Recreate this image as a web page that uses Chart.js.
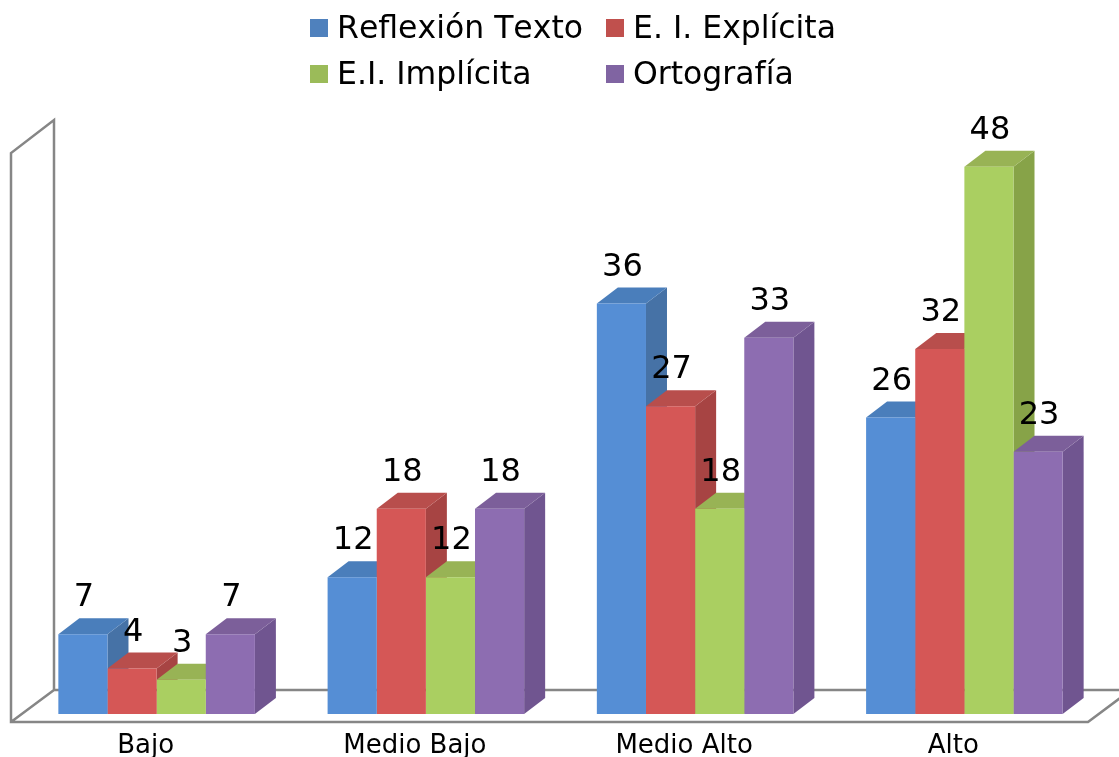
<!DOCTYPE html>
<html>
<head>
<meta charset="utf-8">
<title>Niveles</title>
<script src="https://cdn.jsdelivr.net/npm/chart.js@4"></script>
<style>
  html, body { margin: 0; padding: 0; background: #fff; overflow: hidden; }
  canvas { display: block; }
</style>
</head>
<body>
<canvas id="grafico" width="1119" height="757"></canvas>
<script>
// datos
var categorias = ["Bajo", "Medio Bajo", "Medio Alto", "Alto"];
var nombres = ["Reflexión Texto", "E. I. Explícita", "E.I. Implícita", "Ortografía"];
var reflexion = [7, 12, 36, 26];
var explicita = [4, 18, 27, 32];
var implicita = [3, 12, 18, 48];
var ortografia = [7, 18, 33, 23];

// colores de cada serie
var frente = ["#558ed5", "#d55756", "#aacf61", "#8d6db1"];
var tapa = ["#4a7ebb", "#b84e4c", "#98b355", "#7c5f9a"];
var lado = ["#4672a6", "#a74443", "#87a348", "#705590"];
var muestra = ["#4f81bd", "#c0504d", "#9bbb59", "#8064a2"];

var fuente = "'DejaVu Sans'";
var fondoX = 21, fondoY = 16; // desplazamiento de la profundidad 3D

function poligono(ctx, puntos, relleno) {
    ctx.beginPath();
    ctx.moveTo(puntos[0][0], puntos[0][1]);
    for (var i = 1; i < puntos.length; i++) {
        ctx.lineTo(puntos[i][0], puntos[i][1]);
    }
    ctx.closePath();
    ctx.fillStyle = relleno;
    ctx.fill();
}

// sin kerning, como en la imagen original
var sinKerning = {
    id: "sinKerning",
    beforeDraw: function (chart) {
        chart.ctx.fontKerning = "none";
    }
};

// pared y piso, detras de las barras
var paredes = {
    id: "paredes",
    beforeDatasetsDraw: function (chart) {
        var ctx = chart.ctx, a = chart.chartArea;
        var izq = a.left - 11, der = a.right - 11, base = a.bottom + 8, arriba = a.top;
        ctx.save();
        ctx.strokeStyle = "#868686";
        ctx.lineWidth = 2.5;
        ctx.lineJoin = "miter";
        ctx.beginPath();
        ctx.moveTo(izq + 43, base - 32);
        ctx.lineTo(izq + 43, arriba - 33);
        ctx.lineTo(izq, arriba);
        ctx.lineTo(izq, base);
        ctx.lineTo(der, base);
        ctx.lineTo(der + 43, base - 32);
        ctx.moveTo(izq, base);
        ctx.lineTo(izq + 43, base - 32);
        ctx.lineTo(der + 43, base - 32);
        ctx.stroke();
        ctx.restore();
    }
};

// tapa y lado de cada barra; el frente lo dibuja Chart.js encima
var caras = {
    id: "caras",
    beforeDatasetsDraw: function (chart) {
        var ctx = chart.ctx;
        ctx.save();
        for (var c = 0; c < categorias.length; c++) {
            for (var s = 0; s < nombres.length; s++) {
                var b = chart.getDatasetMeta(s).data[c];
                var x0 = b.x - b.width / 2, x1 = b.x + b.width / 2;
                poligono(ctx, [[x1, b.y], [x1 + fondoX, b.y - fondoY], [x1 + fondoX, b.base - fondoY], [x1, b.base]], lado[s]);
                poligono(ctx, [[x0, b.y], [x0 + fondoX, b.y - fondoY], [x1 + fondoX, b.y - fondoY], [x1, b.y]], tapa[s]);
            }
        }
        ctx.restore();
    }
};

// numeros sobre las barras y leyenda en dos columnas
var textos = {
    id: "textos",
    afterDatasetsDraw: function (chart) {
        var ctx = chart.ctx;
        ctx.save();
        ctx.fillStyle = "#000";
        ctx.font = "32px " + fuente;
        ctx.textAlign = "center";
        ctx.textBaseline = "middle";
        chart.data.datasets.forEach(function (d, s) {
            chart.getDatasetMeta(s).data.forEach(function (b, i) {
                ctx.fillText(d.data[i], b.x + 1, b.y - 36);
            });
        });
        var colX = [310, 606], filaY = [28, 74];
        ctx.textAlign = "left";
        ctx.font = "31.5px " + fuente;
        nombres.forEach(function (n, s) {
            var x = colX[s % 2], y = filaY[Math.floor(s / 2)];
            ctx.fillStyle = muestra[s];
            ctx.fillRect(x, y - 9, 18, 18);
            ctx.fillStyle = "#000";
            ctx.fillText(n, x + 27, y + 2);
        });
        ctx.restore();
    }
};

new Chart("grafico", {
    type: "bar",
    data: {
        labels: categorias,
        datasets: [reflexion, explicita, implicita, ortografia].map(function (serie, s) {
            return {
                label: nombres[s],
                data: serie,
                backgroundColor: frente[s],
                barPercentage: 1,
                categoryPercentage: 0.73
            };
        })
    },
    options: {
        responsive: false,
        animation: false,
        layout: { padding: { left: 22, right: 20, top: 153, bottom: 0 } },
        plugins: {
            legend: { display: false },
            tooltip: { enabled: false }
        },
        scales: {
            x: {
                grid: { display: false },
                border: { display: false },
                afterFit: function (scale) { scale.height = 43; },
                ticks: {
                    color: "#000",
                    font: { family: "DejaVu Sans", size: 26 },
                    padding: 9,
                    labelOffset: -11,
                    maxRotation: 0
                }
            },
            y: {
                display: false,
                min: 0,
                max: 49.2
            }
        }
    },
    plugins: [sinKerning, paredes, caras, textos]
});
</script>
</body>
</html>
